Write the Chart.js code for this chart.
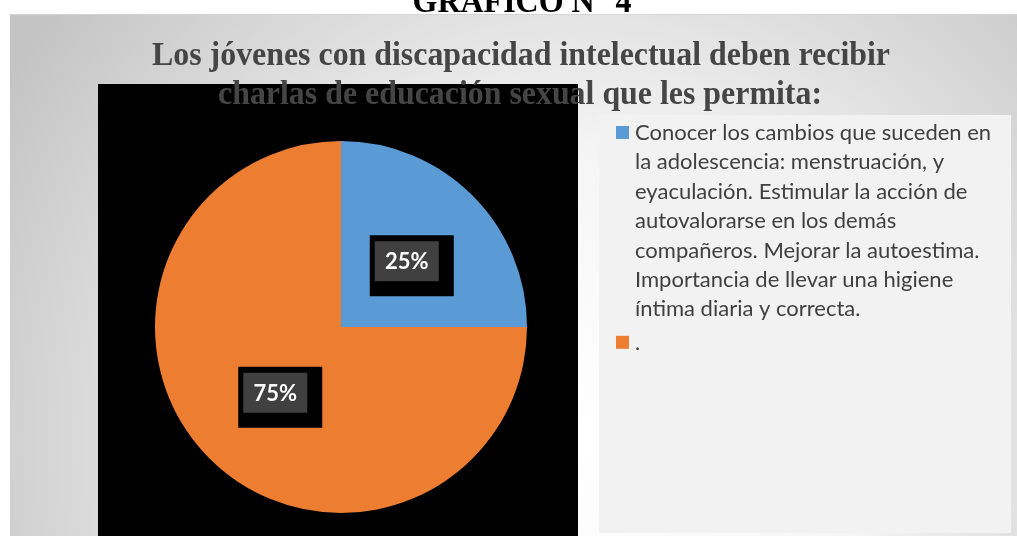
<!DOCTYPE html>
<html lang="es">
<head>
  <meta charset="UTF-8">
  <title>Gráfico N° 4</title>
  <script src="https://cdn.jsdelivr.net/npm/chart.js"></script>
  <style>
    html, body { margin: 0; padding: 0; background: #ffffff; overflow: hidden; }
    canvas { display: block; }
  </style>
</head>
<body>
  <canvas id="chart" width="1017" height="536"></canvas>

  <script>
    // data
    const heading = 'GRÁFICO N° 4';
    const titleLines = [
      'Los jóvenes con discapacidad intelectual deben recibir',
      'charlas de educación sexual que les permita:'
    ];
    const categories = [
      ['Conocer los cambios que suceden en',
       'la adolescencia: menstruación, y',
       'eyaculación. Estimular la acción de',
       'autovalorarse en los demás',
       'compañeros. Mejorar la autoestima.',
       'Importancia de llevar una higiene',
       'íntima diaria y correcta.'],
      '.'
    ];
    const values = [25, 75];
    const colors = ['#5B9BD5', '#ED7D31'];

    // draw text squeezed/stretched horizontally to a given width
    function fitText(ctx, text, cx, y, width) {
      const w = ctx.measureText(text).width;
      ctx.save();
      ctx.translate(cx, y);
      ctx.scale(width / w, 1);
      ctx.textAlign = 'center';
      ctx.fillText(text, 0, 0);
      ctx.restore();
    }

    const backdrop = {
      id: 'backdrop',
      beforeDraw(chart) {
        const ctx = chart.ctx;
        ctx.save();
        ctx.fillStyle = '#ffffff';
        ctx.fillRect(0, 0, chart.width, chart.height);

        // chart frame with radial grey gradient
        const g = ctx.createRadialGradient(585, 440, 0, 585, 440, 680);
        g.addColorStop(0, '#ffffff');
        g.addColorStop(0.4, '#f6f6f6');
        g.addColorStop(1, '#c4c4c4');
        ctx.fillStyle = g;
        ctx.fillRect(10, 14, chart.width - 10, chart.height - 14);
        ctx.strokeStyle = '#d4d4d4';
        ctx.lineWidth = 1;
        ctx.beginPath();
        ctx.moveTo(10, 14.5);
        ctx.lineTo(chart.width, 14.5);
        ctx.stroke();

        // plot area
        ctx.fillStyle = '#000000';
        ctx.fillRect(98, 84, 480, chart.height - 84);

        // legend panel
        ctx.fillStyle = '#f2f2f2';
        ctx.fillRect(599, 115, 412, 418);
        ctx.restore();
      },
      afterDraw(chart) {
        const ctx = chart.ctx;
        ctx.save();

        // heading above the chart (cut by the top edge)
        ctx.fillStyle = '#000000';
        ctx.font = 'bold 33px "Liberation Serif"';
        ctx.textBaseline = 'alphabetic';
        fitText(ctx, heading, 522, 12, 219);

        // chart title
        ctx.fillStyle = '#454545';
        ctx.font = 'bold 33px "Liberation Serif"';
        fitText(ctx, titleLines[0], 521, 65, 738);
        fitText(ctx, titleLines[1], 520, 104, 604);

        // data labels
        const meta = chart.getDatasetMeta(0);
        const total = values.reduce((a, b) => a + b, 0);
        meta.data.forEach((arc, i) => {
          const p = arc.getCenterPoint();
          ctx.fillStyle = '#000000';
          ctx.fillRect(p.x - 37, p.y - 26, 84, 61);
          ctx.fillStyle = '#404040';
          ctx.fillRect(p.x - 32, p.y - 20, 64, 40);
          ctx.fillStyle = '#ffffff';
          ctx.font = 'bold 22px Lato';
          ctx.textAlign = 'center';
          ctx.textBaseline = 'middle';
          ctx.fillText(Math.round(values[i] / total * 100) + '%', p.x, p.y + 1);
        });

        // legend
        ctx.textAlign = 'left';
        ctx.textBaseline = 'middle';
        ctx.font = '22px Lato';
        let y = 133;
        chart.data.labels.forEach((label, i) => {
          const lines = Array.isArray(label) ? label : [label];
          ctx.fillStyle = colors[i];
          ctx.fillRect(616, y - 7, 13, 13);
          ctx.fillStyle = '#404040';
          lines.forEach((line, j) => {
            ctx.fillText(line, 635, y + j * 29.4);
          });
          y += lines.length * 29.4 + 4;
        });
        ctx.restore();
      }
    };

    new Chart(document.getElementById('chart'), {
      type: 'pie',
      data: {
        labels: categories,
        datasets: [{
          data: values,
          backgroundColor: colors,
          borderWidth: 0
        }]
      },
      options: {
        responsive: false,
        devicePixelRatio: 1,
        animation: false,
        layout: { padding: { left: 155, right: 490, top: 141, bottom: 23 } },
        plugins: {
          legend: { display: false },
          title: { display: false },
          tooltip: { enabled: false }
        }
      },
      plugins: [backdrop]
    });
  </script>
</body>
</html>
